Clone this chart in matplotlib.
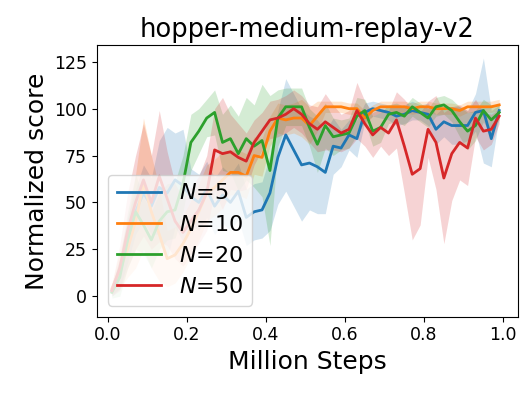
import numpy as np
import matplotlib
matplotlib.use("Agg")
import matplotlib.pyplot as plt

# evaluation points (million steps)
steps = np.round(np.arange(0.01, 1.0, 0.02), 2)

# mean normalized score per ensemble size
score_n5 = [3, 12, 30, 45, 55, 48, 58, 55, 62, 59,
            53, 50, 57, 48, 54, 50, 56, 42, 45, 46,
            55, 74, 86, 78, 70, 71, 69, 66, 80, 79,
            86, 84, 98, 100, 99, 98, 96, 97, 99, 98,
            97, 89, 93, 91, 91, 91, 98, 99, 84, 99]
score_n10 = [4, 14, 25, 40, 60, 45, 33, 20, 22, 28,
             36, 45, 55, 58, 62, 66, 66, 64, 75, 74,
             88, 95, 94, 95, 95, 91, 96, 101, 101, 101,
             100, 100, 95, 99, 101, 101, 101, 101, 100, 101,
             101, 100, 100, 100, 99, 101, 101, 101, 101, 102]
score_n20 = [2, 10, 30, 45, 38, 30, 40, 45, 46, 60,
             82, 88, 95, 98, 82, 84, 76, 84, 80, 83,
             67, 95, 101, 101, 101, 90, 81, 91, 85, 86,
             87, 96, 99, 88, 90, 97, 98, 96, 101, 98,
             95, 101, 102, 99, 93, 88, 91, 99, 94, 98]
score_n50 = [3, 15, 35, 50, 62, 50, 64, 52, 40, 34,
             40, 46, 55, 78, 76, 77, 74, 72, 82, 88,
             94, 95, 97, 100, 97, 92, 89, 93, 90, 87,
             89, 99, 92, 86, 90, 87, 94, 80, 65, 68,
             89, 82, 63, 76, 82, 79, 95, 88, 89, 96]

# spread (std) per ensemble size
std_n5 = [3, 8, 12, 12, 15, 15, 25, 35, 25, 30,
          15, 15, 15, 15, 15, 15, 15, 15, 15, 15,
          20, 25, 30, 30, 30, 25, 25, 22, 15, 10,
          8, 10, 5, 4, 4, 4, 5, 5, 5, 4,
          6, 8, 8, 10, 10, 8, 10, 28, 15, 3]
std_n10 = [3, 10, 15, 25, 35, 30, 25, 15, 15, 15,
           15, 15, 15, 15, 15, 12, 12, 12, 10, 10,
           8, 8, 8, 8, 10, 10, 8, 3, 3, 3,
           3, 3, 4, 3, 3, 3, 3, 3, 3, 3,
           3, 3, 3, 3, 3, 3, 3, 3, 3, 3]
std_n20 = [3, 10, 15, 20, 15, 15, 15, 15, 15, 15,
           15, 12, 10, 12, 15, 18, 20, 22, 22, 30,
           40, 15, 10, 10, 10, 10, 15, 12, 10, 8,
           8, 10, 6, 8, 8, 5, 5, 5, 5, 5,
           5, 5, 5, 6, 8, 10, 8, 6, 8, 4]
std_n50 = [3, 12, 20, 25, 30, 25, 35, 25, 20, 18,
           18, 18, 20, 22, 30, 20, 18, 15, 12, 10,
           10, 10, 10, 10, 10, 10, 12, 15, 12, 10,
           10, 15, 12, 12, 10, 12, 15, 25, 35, 30,
           15, 25, 35, 25, 20, 20, 10, 10, 8, 4]

series = [(score_n5, std_n5, r'$N$=5'),
          (score_n10, std_n10, r'$N$=10'),
          (score_n20, std_n20, r'$N$=20'),
          (score_n50, std_n50, r'$N$=50')]

fig, ax = plt.subplots(figsize=(5.32, 3.94), dpi=100)
fig.subplots_adjust(left=0.182, right=0.974, top=0.886, bottom=0.196)

for mean, std, label in series:
    mean = np.array(mean, dtype=float)
    std = np.array(std, dtype=float)
    line, = ax.plot(steps, mean, linewidth=2, label=label)
    ax.fill_between(steps, mean - std, mean + std, color=line.get_color(),
                    alpha=0.2, linewidth=0)

ax.set_xlim(-0.028, 1.038)
ax.set_ylim(-11, 134)
ax.set_xticks([0.0, 0.2, 0.4, 0.6, 0.8, 1.0])
ax.set_yticks([0, 25, 50, 75, 100, 125])
ax.tick_params(labelsize=12.5)
ax.set_xlabel("Million Steps", fontsize=18)
ax.set_ylabel("Normalized score", fontsize=18)
ax.set_title("hopper-medium-replay-v2", fontsize=18.5)
ax.legend(loc="lower left", fontsize=16)

fig.savefig("out.png", dpi=100)
